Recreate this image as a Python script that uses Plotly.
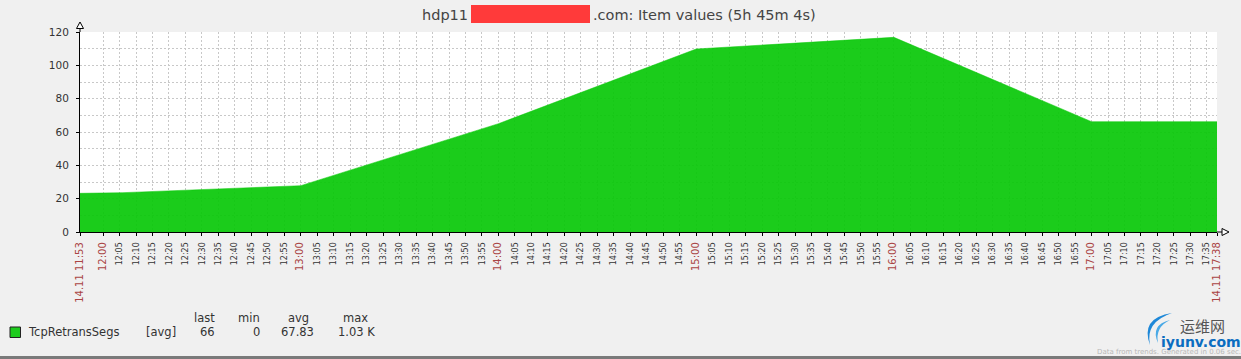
import plotly.graph_objects as go

# ---------------- data ----------------
day = "2014-11-14"
times = ["11:53:00", "12:06:00", "13:00:00", "14:00:00", "15:00:00", "16:00:00", "17:00:00", "17:38:04"]
values = [23.2, 23.6, 27.8, 65.0, 109.8, 116.8, 66.2, 66.2]
series_name = "TcpRetransSegs"
stat_headers = ["last", "min", "avg", "max"]
stat_values = ["66", "0", "67.83", "1.03 K"]
title_left = "hdp11"
title_right = ".com: Item values (5h 45m 4s)"
y_ticks = [0, 20, 40, 60, 80, 100, 120]

# x tick labels every 5 minutes (12:00 .. 17:35) plus start/end
tick_minutes = []
h, m = 12, 0
while (h, m) <= (17, 35):
    tick_minutes.append((h, m))
    m += 5
    if m == 60:
        h, m = h + 1, 0

# ---------------- layout helpers ----------------
W, H = 1241, 359
L, R, T, B = 80, 1217, 32, 232


def X(px):
    return (px - L) / (R - L)


def Y(py):
    return (B - py) / (B - T)


RED = "#aa4444"
DARK = "#333333"
FONT = "DejaVu Sans"

xs = [f"{day} {t}" for t in times]

tickvals = [f"{day} 11:53:00"]
ticktext = [f'<span style="color:{RED};font-size:10px">14.11 11:53</span>']
for (hh, mm) in tick_minutes:
    tickvals.append(f"{day} {hh:02d}:{mm:02d}:00")
    lab = f"{hh:02d}:{mm:02d}"
    if mm == 0:
        ticktext.append(f'<span style="color:{RED};font-size:10px">{lab}</span>')
    else:
        ticktext.append(lab)
tickvals.append(f"{day} 17:38:04")
ticktext.append(f'<span style="color:{RED};font-size:10px">14.11 17:38</span>')

fig = go.Figure()
fig.add_trace(go.Scatter(
    x=xs, y=values, mode="lines", fill="tozeroy",
    line=dict(color="rgb(8,200,8)", width=0.5, shape="linear"),
    fillcolor="rgba(8,200,8,0.92)", hoverinfo="skip", showlegend=False,
))

grid = dict(gridcolor="#c8c8c8", griddash="2px,2px", gridwidth=1)

fig.update_layout(
    width=W, height=H,
    margin=dict(l=L, r=W - R, t=T, b=H - B, pad=0),
    paper_bgcolor="#f0f0f0", plot_bgcolor="#ffffff",
    font=dict(family=FONT, color=DARK, size=10),
    showlegend=False,
    xaxis=dict(
        type="date", range=[xs[0], xs[-1]],
        tickmode="array", tickvals=tickvals, ticktext=ticktext,
        tickangle=-90, tickfont=dict(size=8, color=DARK, family=FONT),
        ticks="outside", ticklen=3, tickcolor="#000", ticklabelstandoff=3,
        showline=True, linecolor="#000", linewidth=1,
        zeroline=False, layer="above traces", **grid,
    ),
    yaxis=dict(
        range=[0, 120], tickmode="array", tickvals=y_ticks,
        tickfont=dict(size=10.5, color=DARK, family=FONT),
        ticks="outside", ticklen=3, tickcolor="#000", ticklabelstandoff=5,
        showline=True, linecolor="#000", linewidth=1,
        zeroline=False, layer="above traces",
        minor=dict(dtick=10, showgrid=True, gridcolor="#c8c8c8", griddash="2px,2px", ticks=""),
        **grid,
    ),
)

shapes = []
# axis extensions and arrows
shapes.append(dict(type="line", xref="paper", yref="paper", x0=X(R), x1=X(1224), y0=Y(B), y1=Y(B),
                   line=dict(color="#000", width=1)))
shapes.append(dict(type="path", xref="paper", yref="paper",
                   path=f"M {X(1222)} {Y(228.5)} L {X(1229)} {Y(232)} L {X(1222)} {Y(235.5)} Z",
                   fillcolor="#ffffff", line=dict(color="#000", width=1)))
shapes.append(dict(type="line", xref="paper", yref="paper", x0=X(L), x1=X(L), y0=Y(T), y1=Y(28),
                   line=dict(color="#000", width=1)))
shapes.append(dict(type="path", xref="paper", yref="paper",
                   path=f"M {X(76.5)} {Y(28.5)} L {X(80)} {Y(22)} L {X(83.5)} {Y(28.5)} Z",
                   fillcolor="#ffffff", line=dict(color="#000", width=1)))
# title redaction box
shapes.append(dict(type="rect", xref="paper", yref="paper", x0=X(471), x1=X(590), y0=Y(5), y1=Y(23),
                   fillcolor="#ff3a3a", line=dict(width=0)))
# legend swatch
shapes.append(dict(type="rect", xref="paper", yref="paper", x0=X(10), x1=X(20.5), y0=Y(327), y1=Y(337.5),
                   fillcolor="#1ecc1e", line=dict(color="#222", width=1)))
# bottom bar
shapes.append(dict(type="rect", xref="paper", yref="paper", x0=X(0), x1=X(W), y0=Y(356), y1=Y(H + 2),
                   fillcolor="#7a7a7a", line=dict(width=0)))
# watermark swoosh
shapes.append(dict(type="path", xref="paper", yref="paper",
                   path=(f"M {X(1172)} {Y(313)} Q {X(1140)} {Y(318)} {X(1150)} {Y(345)} "
                         f"Q {X(1145)} {Y(322)} {X(1172)} {Y(313)} Z"),
                   fillcolor="#1e88d8", line=dict(width=0)))
shapes.append(dict(type="path", xref="paper", yref="paper",
                   path=(f"M {X(1170)} {Y(320)} Q {X(1150)} {Y(325)} {X(1158)} {Y(343)} "
                         f"Q {X(1155)} {Y(327)} {X(1170)} {Y(320)} Z"),
                   fillcolor="#49a9e6", line=dict(width=0)))
fig.update_layout(shapes=shapes)

ann = []


def text(x, y, s, size=11, color=DARK, xanchor="left", family=FONT):
    ann.append(dict(xref="paper", yref="paper", x=X(x), y=Y(y), text=s, showarrow=False,
                    xanchor=xanchor, yanchor="middle",
                    font=dict(family=family, size=size, color=color)))


# title
text(469.5, 14.5, title_left, size=14.5, color="#444", xanchor="right")
text(590.5, 14.5, title_right, size=14.5, color="#444", xanchor="left")

# legend
text(26, 332, series_name, size=11.5)
text(144, 332, "[avg]", size=11.5)
right_edges_head = [217, 262, 311, 370]
right_edges_val = [217, 262, 316, 377]
for hx, hs in zip(right_edges_head, stat_headers):
    text(hx, 318, hs, size=11.5, xanchor="right")
for vx, vs in zip(right_edges_val, stat_values):
    text(vx, 332, vs, size=11.5, xanchor="right")

# watermark / footer
text(1178, 325, "运维网", size=15, color="#555", family="Noto Sans CJK SC")
text(1159, 342, "<b>iyunv.com</b>", size=14, color="#0b6dc0")
text(1243, 352, "Data from trends. Generated in 0.06 sec.", size=7, color="#b8b8b8", xanchor="right")

fig.update_layout(annotations=ann)
fig.write_html("out.html")
